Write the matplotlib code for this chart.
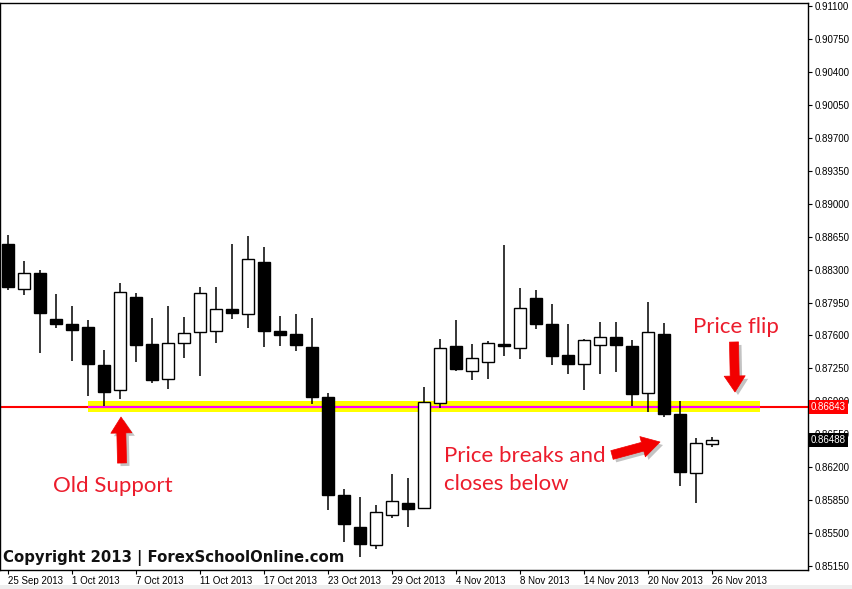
import matplotlib
matplotlib.use("Agg")
import matplotlib.pyplot as plt
from matplotlib.patches import FancyArrow, Rectangle
import numpy as np
import pandas as pd

# ---------------- data ----------------
dates = pd.bdate_range("2013-09-25", "2013-11-26")
opens = [0.88571, 0.88093, 0.88263, 0.87775, 0.87722, 0.87690, 0.87286, 0.87020, 0.88008, 0.87509,
         0.87137, 0.87520, 0.87637, 0.87647, 0.87881, 0.87828, 0.88380, 0.87647, 0.87615, 0.87477,
         0.86946, 0.85905, 0.85565, 0.85373, 0.85692, 0.85820, 0.85767, 0.86882, 0.87488, 0.87222,
         0.87318, 0.87509, 0.87467, 0.87998, 0.87722, 0.87392, 0.87297, 0.87498, 0.87583, 0.87488,
         0.86988, 0.87615, 0.86765, 0.86138, 0.86447]
highs = [0.88667, 0.88391, 0.88295, 0.88040, 0.87913, 0.87764, 0.87445, 0.88157, 0.88051, 0.87785,
         0.87913, 0.87796, 0.88115, 0.88115, 0.88571, 0.88657, 0.88540, 0.87807, 0.87828, 0.87785,
         0.86988, 0.85968, 0.85883, 0.85798, 0.86128, 0.86085, 0.87052, 0.87562, 0.87764, 0.87509,
         0.87541, 0.88561, 0.88104, 0.88083, 0.87934, 0.87722, 0.87562, 0.87743, 0.87743, 0.87552,
         0.87955, 0.87732, 0.86903, 0.86510, 0.86521]
lows = [0.88083, 0.88030, 0.87413, 0.87679, 0.87328, 0.86957, 0.86850, 0.86925, 0.87318, 0.87095,
        0.87031, 0.87360, 0.87169, 0.87520, 0.87775, 0.87679, 0.87477, 0.87488, 0.87435, 0.86872,
        0.85745, 0.85405, 0.85246, 0.85331, 0.85660, 0.85565, 0.85767, 0.86829, 0.87222, 0.87127,
        0.87137, 0.87382, 0.87350, 0.87668, 0.87286, 0.87190, 0.87020, 0.87190, 0.87212, 0.86850,
        0.86787, 0.86733, 0.86000, 0.85820, 0.86415]
closes = [0.88115, 0.88263, 0.87838, 0.87722, 0.87658, 0.87297, 0.86999, 0.88062, 0.87498, 0.87127,
          0.87520, 0.87626, 0.88051, 0.87881, 0.87838, 0.88412, 0.87647, 0.87605, 0.87498, 0.86946,
          0.85905, 0.85597, 0.85384, 0.85724, 0.85841, 0.85756, 0.86893, 0.87467, 0.87243, 0.87360,
          0.87520, 0.87488, 0.87892, 0.87722, 0.87382, 0.87297, 0.87552, 0.87583, 0.87498, 0.86978,
          0.87637, 0.86765, 0.86149, 0.86457, 0.86488]

support_level = 0.86843
current_price = 0.86488
zone_low, zone_high = 0.86787, 0.86903
zone_start, zone_end = 5, 47          # candle indices of the highlighted zone
y_ticks = [0.85150, 0.85500, 0.85850, 0.86200, 0.86550, 0.86900, 0.87250, 0.87600,
           0.87950, 0.88300, 0.88650, 0.89000, 0.89350, 0.89700, 0.90050, 0.90400,
           0.90750, 0.91100]
tick_step = 4

# ---------------- figure ----------------
W, H = 853, 589
fig = plt.figure(figsize=(W / 100, H / 100), dpi=100)
fig.patch.set_facecolor("white")

ax = fig.add_axes([0, 19 / H, 808 / W, 567 / H])
ax.set_facecolor("white")

x = np.arange(len(opens))
o = np.array(opens); c = np.array(closes); h = np.array(highs); l = np.array(lows)
bull = c >= o

# zone + support line
ax.fill_between([zone_start, zone_end], zone_low, zone_high, color="#FFFF00", lw=0, zorder=1)
ax.axhline(support_level, color="#FF0000", lw=1.5, zorder=1.2)
ax.hlines(support_level, zone_start, zone_end, color="#FF00FF", lw=1.5, zorder=1.3)

# candles
ax.vlines(x, l, h, color="black", lw=1.1, zorder=2)
bottoms = np.minimum(o, c)
heights = np.maximum(np.abs(c - o), 0.00002)
ax.bar(x, heights, bottom=bottoms, width=0.69,
       color=np.where(bull, "white", "black"), edgecolor="black", linewidth=1.0, zorder=2.1)

ax.set_xlim(-0.5, 50)
ax.set_ylim(0.85108, 0.91132)

for s in ax.spines.values():
    s.set_color("black"); s.set_linewidth(1.0)

# y axis on right
ax.yaxis.tick_right()
ax.set_yticks(y_ticks)
ax.set_yticklabels([f"{v:.5f}" for v in y_ticks], fontsize=7, family="Liberation Sans", color="black")
ax.tick_params(axis="y", direction="out", length=3, width=0.8, pad=1.5, colors="black")

# x axis
xt = list(range(0, len(dates), tick_step))
ax.set_xticks(xt)
ax.set_xticklabels([f"{dates[i].day} {dates[i].strftime('%b %Y')}" for i in xt],
                   fontsize=7, family="Liberation Sans", color="black")
for lbl in ax.get_xticklabels():
    lbl.set_ha("left")
ax.tick_params(axis="x", direction="out", length=3, width=0.8, pad=1.5, colors="black")

# price boxes
ytr = ax.get_yaxis_transform()
ax.text(1.0035, support_level, f"{support_level:.5f}", transform=ytr, ha="left", va="center",
        fontsize=7, family="Liberation Sans", color="white", clip_on=False, zorder=5,
        bbox=dict(boxstyle="square,pad=0.2", fc="#FF0000", ec="none"))
ax.text(1.0035, current_price, f"{current_price:.5f}", transform=ytr, ha="left", va="center",
        fontsize=7, family="Liberation Sans", color="white", clip_on=False, zorder=5,
        bbox=dict(boxstyle="square,pad=0.2", fc="black", ec="none"))

# ---------------- overlay (pixel coords) ----------------
ov = fig.add_axes([0, 0, 1, 1])
ov.set_xlim(0, W); ov.set_ylim(H, 0); ov.axis("off")

ov.add_patch(Rectangle((0, 585), W, 4, color="#EEEEEE", lw=0))

red_txt = "#EC1C2C"
ov.text(3, 562, "Copyright 2013 | ForexSchoolOnline.com", fontsize=10.7, fontweight="bold",
        family="DejaVu Sans", color="#111111", va="baseline", ha="left")
ov.text(53, 492, "Old Support", fontsize=16, family="Lato", color=red_txt, va="baseline")
ov.text(444, 462, "Price breaks and", fontsize=16, family="Lato", color=red_txt, va="baseline")
ov.text(444, 490, "closes below", fontsize=16, family="Lato", color=red_txt, va="baseline")
ov.text(693, 333, "Price flip", fontsize=16, family="Lato", color=red_txt, va="baseline")

def arrow(x0, y0, dx, dy, hl):
    sh = FancyArrow(x0 + 3, y0 + 3, dx, dy, width=9, head_width=21, head_length=hl,
                    length_includes_head=True, color="#555555", alpha=0.35, lw=0, joinstyle="round")
    ov.add_patch(sh)
    ar = FancyArrow(x0, y0, dx, dy, width=9, head_width=21, head_length=hl,
                    length_includes_head=True, color="#F20000", lw=0.5, joinstyle="round")
    ov.add_patch(ar)

arrow(122, 463, -1, -46, 16)
arrow(734, 342, 1, 50, 16)
arrow(612, 455, 48, -13, 18)

fig.savefig("out.png", dpi=100)
